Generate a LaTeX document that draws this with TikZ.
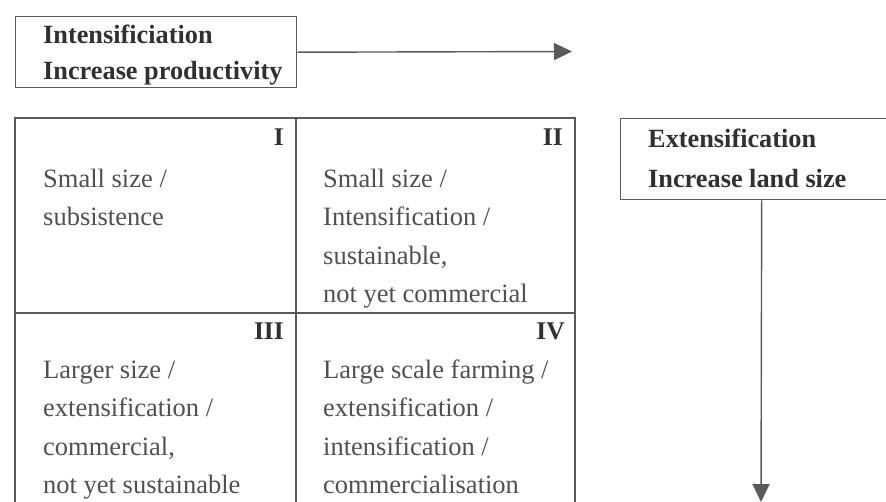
\documentclass[tikz,border=0pt]{standalone}
\usepackage{fontspec}
\setmainfont{Liberation Serif}
\usetikzlibrary{arrows.meta}
\definecolor{linec}{HTML}{5A5A5A}
\definecolor{txtc}{HTML}{505050}
\definecolor{boldc}{HTML}{303030}
\tikzset{
  frame/.style={draw=linec, line width=1.4pt, inner sep=0pt, anchor=north west},
  gridline/.style={draw=linec, line width=1.4pt},
  conn/.style={draw=linec, line width=1.4pt, -{Triangle[length=18pt,width=17pt]}},
  cell/.style={anchor=base west, inner sep=0pt, text=txtc,
    font=\fontsize{26.5}{38.5}\selectfont},
  head/.style={anchor=base west, inner sep=0pt, text=boldc,
    font=\fontsize{26.3}{36}\selectfont\bfseries},
  num/.style={anchor=base east, inner sep=0pt, text=boldc,
    font=\fontsize{25.5}{30}\selectfont\bfseries}
}
\begin{document}
\begin{tikzpicture}[x=1pt,y=-1pt]
\useasboundingbox (0,0) rectangle (886,501);
\clip (0,0) rectangle (886,501);
% top box
\node[frame, minimum width=281pt, minimum height=71pt] (topbox) at (15,16) {};
\node[head] (toptext) at (43,43) {\vtop{\hbox{Intensificiation}\hbox{Increase productivity}}};
\coordinate (toptip) at (572,51.5);
\draw[conn] (topbox.east) -- (toptip);
% right box
\node[frame, minimum width=282pt, minimum height=81pt] (rightbox) at (620,118) {};
\node[head] (righttext) at (648,147) {\vtop{\baselineskip=40pt\hbox{Extensification}\hbox{Increase land size}}};
\coordinate (righttip) at (761,502);
\draw[conn] (rightbox.south) -- (righttip);
% grid
\draw[gridline] (15,540) -- (15,118) -- (575,118) -- (575,540);
\draw[gridline] (296,118) -- (296,540);
\draw[gridline] (15,313) -- (575,313);
% numbers
\node[num] (n1) at (284,145) {I};
\node[num] (n2) at (563,145) {II};
\node[num] (n3) at (284,339) {III};
\node[num] (n4) at (565,339) {IV};
% cell texts
\node[cell] (c1) at (43,187) {\vtop{\hbox{Small size /}\hbox{subsistence}}};
\node[cell] (c2) at (323,187) {\vtop{\hbox{Small size /}\hbox{Intensification /}\hbox{sustainable,}\hbox{not yet commercial}}};
\node[cell] (c3) at (43,378) {\vtop{\hbox{Larger size /}\hbox{extensification /}\hbox{commercial,}\hbox{not yet sustainable}}};
\node[cell] (c4) at (323,378) {\vtop{\hbox{Large scale farming /}\hbox{extensification /}\hbox{intensification /}\hbox{commercialisation}}};
\end{tikzpicture}
\end{document}
